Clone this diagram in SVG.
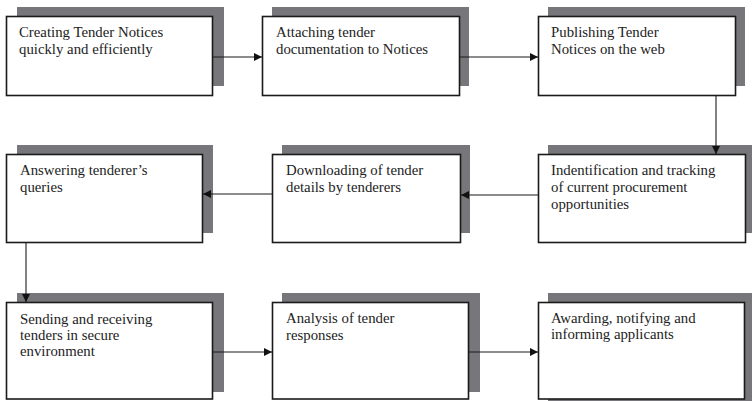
<svg xmlns="http://www.w3.org/2000/svg" width="752" height="401" viewBox="0 0 752 401">
<style>
.sh{fill:#77777b;stroke:none}
.bx{fill:#fff;stroke:#1a1a1a;stroke-width:1.6}
.t{font-family:"Liberation Serif","Times New Roman",serif;font-size:14.8px;fill:#222}
.c{stroke:#1a1a1a;stroke-width:1.1;fill:none;marker-end:url(#ah)}
</style>
<defs>
<marker id="ah" viewBox="0 0 10 10" refX="10" refY="5" markerWidth="9" markerHeight="8" markerUnits="userSpaceOnUse" orient="auto">
<path d="M0,0 L10,5 L0,10 Z" fill="#111"/>
</marker>
</defs>
<rect width="752" height="401" fill="#fff"/>
<g id="n1">
<rect class="sh" x="17" y="7" width="207" height="79"/>
<rect class="bx" x="6.5" y="16.5" width="206" height="79"/>
<text class="t" x="19" y="37">Creating Tender Notices</text>
<text class="t" x="19" y="54">quickly and efficiently</text>
</g>
<g id="n2">
<rect class="sh" x="272" y="7" width="197" height="79"/>
<rect class="bx" x="262.5" y="16.5" width="197" height="79"/>
<text class="t" x="276" y="37">Attaching tender</text>
<text class="t" x="276" y="54">documentation to Notices</text>
</g>
<g id="n3">
<rect class="sh" x="548" y="7" width="197" height="79"/>
<rect class="bx" x="538.5" y="16.5" width="197" height="79"/>
<text class="t" x="551" y="37">Publishing Tender</text>
<text class="t" x="551" y="54">Notices on the web</text>
</g>
<g id="n4">
<rect class="sh" x="548" y="145" width="204" height="88"/>
<rect class="bx" x="538.5" y="154.5" width="207" height="88"/>
<text class="t" x="551" y="175">Indentification and tracking</text>
<text class="t" x="551" y="192">of current procurement</text>
<text class="t" x="551" y="209">opportunities</text>
</g>
<g id="n5">
<rect class="sh" x="282" y="145" width="188" height="88"/>
<rect class="bx" x="272.5" y="154.5" width="188" height="88"/>
<text class="t" x="286" y="175">Downloading of tender</text>
<text class="t" x="286" y="192">details by tenderers</text>
</g>
<g id="n6">
<rect class="sh" x="17" y="145" width="196" height="88"/>
<rect class="bx" x="6.5" y="154.5" width="196" height="88"/>
<text class="t" x="20" y="175">Answering tenderer’s</text>
<text class="t" x="20" y="192">queries</text>
</g>
<g id="n7">
<rect class="sh" x="17" y="293" width="207" height="99"/>
<rect class="bx" x="6.5" y="302.5" width="206" height="96.5"/>
<text class="t" x="20" y="324">Sending and receiving</text>
<text class="t" x="20" y="340">tenders in secure</text>
<text class="t" x="20" y="356">environment</text>
</g>
<g id="n8">
<rect class="sh" x="282" y="293" width="198" height="99"/>
<rect class="bx" x="272.5" y="302.5" width="196" height="96.5"/>
<text class="t" x="286" y="323">Analysis of tender</text>
<text class="t" x="286" y="340">responses</text>
</g>
<g id="n9">
<rect class="sh" x="548" y="293" width="204" height="108"/>
<rect class="bx" x="538.5" y="302.5" width="206" height="96.5"/>
<text class="t" x="551" y="323">Awarding, notifying and</text>
<text class="t" x="551" y="339">informing applicants</text>
</g>
<g id="connectors">
<line class="c" x1="213" y1="57" x2="262" y2="57"/>
<line class="c" x1="460" y1="57" x2="538" y2="57"/>
<line class="c" x1="716" y1="96" x2="716" y2="154"/>
<line class="c" x1="538" y1="195" x2="461" y2="195"/>
<line class="c" x1="272" y1="194" x2="203" y2="194"/>
<line class="c" x1="26" y1="243" x2="26" y2="302"/>
<line class="c" x1="213" y1="352" x2="272" y2="352"/>
<line class="c" x1="469" y1="352" x2="538" y2="352"/>
</g>
</svg>
